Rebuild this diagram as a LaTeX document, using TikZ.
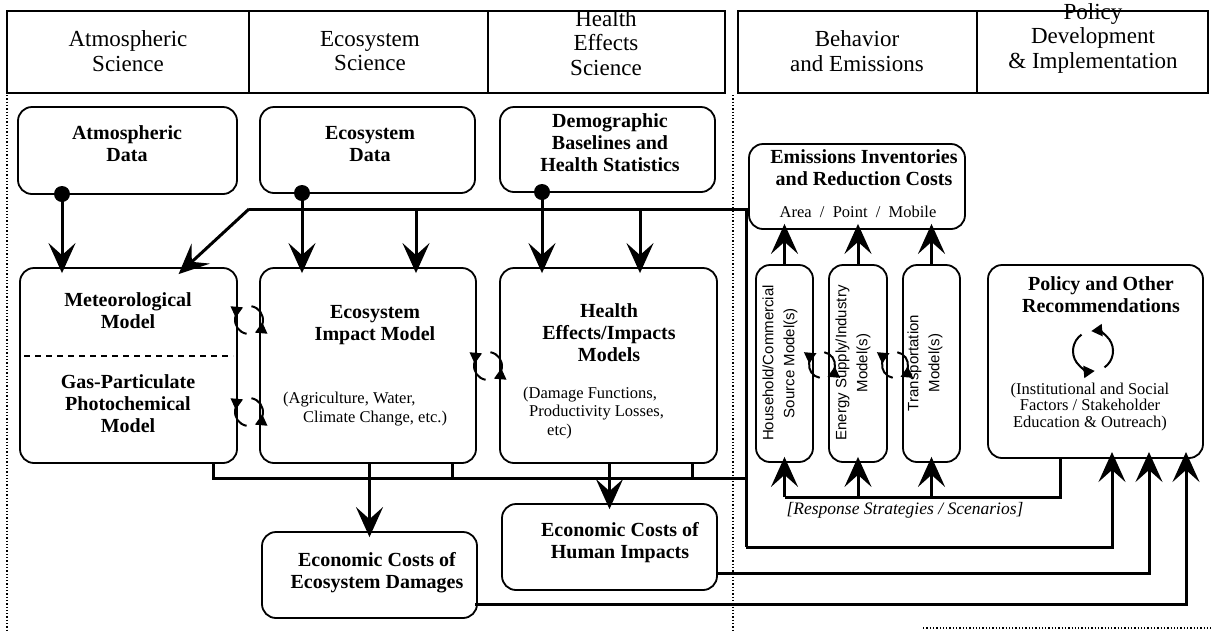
\documentclass[tikz,border=0pt]{standalone}
\usepackage{fontspec}
\setmainfont{Liberation Serif}
\setsansfont{Liberation Sans}
\usetikzlibrary{arrows.meta}
\newcommand{\cyclecw}[2]{%
  \draw[cyc] ([shift={(100:#2)}]#1) arc[start angle=100,end angle=245,radius=#2];
  \draw[cyc] ([shift={(280:#2)}]#1) arc[start angle=280,end angle=425,radius=#2];}
\newcommand{\cycleccw}[2]{%
  \draw[cyc] ([shift={(235:#2)}]#1) arc[start angle=235,end angle=85,radius=#2];
  \draw[cyc] ([shift={(55:#2)}]#1) arc[start angle=55,end angle=-95,radius=#2];}
\begin{document}
\begin{tikzpicture}[x=1pt,y=-1pt,
  box/.style={draw, line width=1.8pt, rounded corners=14pt, inner sep=0pt},
  hbox/.style={draw, line width=1.8pt, inner sep=0pt, minimum height=82pt},
  htext/.style={align=center, font=\fontsize{23}{24.5}\selectfont, inner sep=0pt},
  ttl/.style={align=center, font=\bfseries\fontsize{20}{22}\selectfont, inner sep=0pt},
  sub/.style={align=left, font=\fontsize{16.5}{18.5}\selectfont, inner sep=0pt},
  vtext/.style={align=center, rotate=90, font=\sffamily\fontsize{15}{21}\selectfont, inner sep=0pt},
  resp/.style={font=\itshape\fontsize{17.5}{20}\selectfont, inner sep=0pt},
  conn/.style={line width=3pt},
  arr/.style={conn, shorten >=-6pt, -{Stealth[length=30pt,width=27pt,inset=12pt]}},
  blob/.style={circle, fill, inner sep=0pt, minimum size=16pt},
  cyc/.style={line width=2pt, -{Triangle[length=11pt,width=12pt]}},
  dotline/.style={line width=1.3pt, dotted},
  dashline/.style={line width=1.3pt, dash pattern=on 6pt off 5pt},
]
\useasboundingbox (0,0) rectangle (1213,630);
\fill[white] (0,0) rectangle (1213,630);

% header
\node[hbox, minimum width=242pt] (h1) at (128,52) {};
\node[hbox, minimum width=239pt] (h2) at (368.5,52) {};
\node[hbox, minimum width=237pt] (h3) at (606.5,52) {};
\node[hbox, minimum width=239pt] (h4) at (857.5,52) {};
\node[hbox, minimum width=231pt] (h5) at (1092.5,52) {};
\node[htext] (h1t) at (128,51) {Atmospheric\\Science};
\node[htext] (h2t) at (370,51) {Ecosystem\\Science};
\node[htext] (h3t) at (606,43) {Health\\Effects\\Science};
\node[htext] (h4t) at (857,51) {Behavior\\and Emissions};
\node[htext] (h5t) at (1093,38) {Policy\\Development\\\& Implementation};

% dotted separators
\draw[dotline] (7,95) -- (7,630);
\draw[dotline] (733,95) -- (733,630);
\draw[dotline] (923,628) -- (1213,628);

% data boxes
\node[box, minimum width=219pt, minimum height=87pt] (atmD) at (127.5,150.5) {};
\node[ttl] (atmDt) at (127,144) {Atmospheric\\Data};
\node[box, minimum width=215pt, minimum height=86pt] (ecoD) at (367.5,150) {};
\node[ttl] (ecoDt) at (370,144) {Ecosystem\\Data};
\node[box, minimum width=215pt, minimum height=85pt] (demD) at (607.5,149.5) {};
\node[ttl] (demDt) at (610,143) {Demographic\\Baselines and\\Health Statistics};

% emissions inventories
\node[box, minimum width=216pt, minimum height=85pt] (emis) at (857,186.5) {};
\node[ttl] (emist) at (864,168) {Emissions Inventories\\and Reduction Costs};
\node[sub, align=center] (emiss) at (858,212) {Area \ / \ Point \ / \ Mobile};

% model boxes
\node[box, minimum width=217pt, minimum height=195pt] (met) at (128.5,365.5) {};
\coordinate (dl) at (24,356);
\coordinate (dr) at (233,356);
\draw[dashline] (dl) -- (dr);
\node[ttl] (mett) at (128,311) {Meteorological\\Model};
\node[ttl] (gast) at (128,404) {Gas-Particulate\\Photochemical\\Model};

\node[box, minimum width=216pt, minimum height=195pt] (ecoM) at (368,365.5) {};
\node[ttl] (ecoMt) at (375,325) {Ecosystem\\Impact Model};
\node[sub, anchor=west] (ecoMs) at (283,409) {(Agriculture, Water,\\\hspace*{20pt}Climate Change, etc.)};

\node[box, minimum width=217pt, minimum height=195pt] (hltM) at (608.5,365.5) {};
\node[ttl] (hltMt) at (609,333) {Health\\Effects/Impacts\\Models};
\node[sub, anchor=west] (hltMs) at (523,413) {(Damage Functions,\\\hspace*{6pt}Productivity Losses,\\\hspace*{24pt}etc)};

% source models
\node[box, minimum width=57pt, minimum height=197pt] (hh) at (784.5,363.5) {};
\node[vtext] (hht) at (780,363) {Household/Commercial\\Source Model(s)};
\node[box, minimum width=58pt, minimum height=197pt] (en) at (858,363.5) {};
\node[vtext] (ent) at (853,363) {Energy Supply/Industry\\Model(s)};
\node[box, minimum width=57pt, minimum height=197pt] (tr) at (931.5,363.5) {};
\node[vtext] (trt) at (925,363) {Transportation\\Model(s)};

% policy
\node[box, minimum width=215pt, minimum height=193pt] (pol) at (1095.5,361.5) {};
\node[ttl] (polt) at (1101,295) {Policy and Other\\Recommendations};
\node[sub, align=center, font=\fontsize{16.5}{16.5}\selectfont] (pols) at (1090,407) {(Institutional and Social\\Factors / Stakeholder\\Education \& Outreach)};

% economic costs
\node[box, minimum width=215pt, minimum height=86pt] (ecoC) at (369.5,575) {};
\node[ttl] (ecoCt) at (377,573) {Economic Costs of\\Ecosystem Damages};
\node[box, minimum width=215pt, minimum height=86pt] (humC) at (609.5,547) {};
\node[ttl] (humCt) at (620,543) {Economic Costs of\\Human Impacts};

% cycles
\coordinate (c1) at (249,320);
\coordinate (c2) at (249,412);
\coordinate (c3) at (488,366);
\coordinate (c4) at (822,365);
\coordinate (c5) at (895,365);
\coordinate (c6) at (1093,351);
\cyclecw{c1}{14}
\cyclecw{c2}{14}
\cyclecw{c3}{14}
\cyclecw{c4}{13}
\cyclecw{c5}{13}
\cycleccw{c6}{20}

% data connectors
\node[blob] (b1) at (62,194) {};
\node[blob] (b2) at (302,193) {};
\node[blob] (b3) at (542,192) {};
\draw[arr] (b1.center) -- (b1.center |- met.north);
\coordinate (hl) at (249,209);
\draw[conn] (hl) -- (emis.west |- hl);
\coordinate (metin) at (183,270);
\draw[arr] (hl) -- (metin);
\draw[conn] (b2.center) -- (b2.center |- hl);
\draw[conn] (b3.center) -- (b3.center |- hl);
\coordinate (a1) at (302,209);
\coordinate (a2) at (416,209);
\coordinate (a3) at (542,209);
\coordinate (a4) at (640,209);
\draw[arr] (a1) -- (a1 |- ecoM.north);
\draw[arr] (a2) -- (a2 |- ecoM.north);
\draw[arr] (a3) -- (a3 |- hltM.north);
\draw[arr] (a4) -- (a4 |- hltM.north);

% bottom collector line
\coordinate (j1) at (213,478);
\coordinate (j2) at (452,478);
\coordinate (j3) at (692,478);
\coordinate (j4) at (746,478);
\draw[conn] (met.south -| j1) -- (j1) -- (j4);
\draw[conn] (ecoM.south -| j2) -- (j2);
\draw[conn] (hltM.south -| j3) -- (j3);
\draw[arr] (ecoM.south -| ecoC.north) -- (ecoC.north);
\draw[arr] (hltM.south -| humC.north) -- (humC.north);

% feeds to policy
\coordinate (vt) at (746,209);
\coordinate (vb) at (746,547);
\coordinate (p1) at (1112,458);
\coordinate (p2) at (1149,458);
\coordinate (p3) at (1186,458);
\coordinate (hc) at (716,573);
\coordinate (ec) at (475,604);
\draw[conn] (vt) -- (vb);
\draw[arr] (vb) -| (p1);
\draw[arr] (hc) -| (p2);
\draw[arr] (ec) -| (p3);

% source models to inventories
\draw[arr] (hh.north) -- (hh.north |- emis.south);
\draw[arr] (en.north) -- (en.north |- emis.south);
\draw[arr] (tr.north) -- (tr.north |- emis.south);

% response strategies
\coordinate (rr) at (1060,497);
\draw[conn] (hh.south |- rr) -- (rr) -- (rr |- pol.south);
\draw[arr] (hh.south |- rr) -- (hh.south);
\draw[arr] (en.south |- rr) -- (en.south);
\draw[arr] (tr.south |- rr) -- (tr.south);
\node[resp] (respt) at (905,510) {[Response Strategies / Scenarios]};
\end{tikzpicture}
\end{document}
